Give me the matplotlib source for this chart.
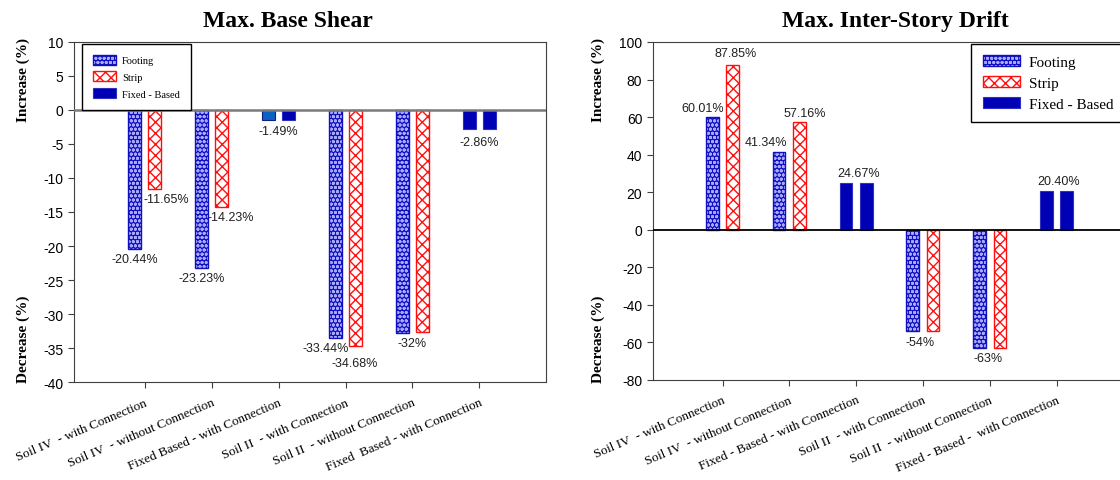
import numpy as np
import matplotlib
matplotlib.use("Agg")
import matplotlib.pyplot as plt
from matplotlib.legend_handler import HandlerTuple

plt.rcParams["hatch.linewidth"] = 1.0
plt.rcParams["axes.unicode_minus"] = False

SERIF = "Liberation Serif"
SANS = "Liberation Sans"

# ---- data -------------------------------------------------------------
shear_cats = ["Soil IV  - with Connection", "Soil IV  - without Connection",
              "Fixed Based - with Connection", "Soil II  - with Connection",
              "Soil II  - without Connection", "Fixed  Based - with Connection"]
shear_footing = [-20.44, -23.23, np.nan, -33.44, -32.75, np.nan]
shear_strip = [-11.65, -14.23, np.nan, -34.68, -32.6, np.nan]
shear_fixed = [np.nan, np.nan, -1.49, np.nan, np.nan, -2.86]
# (text, series, category index)
shear_labels = [("-20.44%", "footing", 0), ("-11.65%", "strip", 0),
                ("-23.23%", "footing", 1), ("-14.23%", "strip", 1),
                ("-1.49%", "fixed", 2), ("-33.44%", "footing", 3),
                ("-34.68%", "strip", 3), ("-32%", "group", 4),
                ("-2.86%", "fixed", 5)]

drift_cats = ["Soil IV  - with Connection", "Soil IV  - without Connection",
              "Fixed - Based - with Connection", "Soil II  - with Connection",
              "Soil II  - without Connection", "Fixed - Based -  with Connection"]
drift_footing = [60.01, 41.34, np.nan, -54.0, -63.0, np.nan]
drift_strip = [87.85, 57.16, np.nan, -54.0, -63.0, np.nan]
drift_fixed = [np.nan, np.nan, 24.67, np.nan, np.nan, 20.40]
drift_labels = [("60.01%", "footing", 0), ("87.85%", "strip", 0),
                ("41.34%", "footing", 1), ("57.16%", "strip", 1),
                ("24.67%", "fixed", 2), ("-54%", "footing", 3),
                ("-63%", "footing", 4), ("20.40%", "fixed", 5)]

# ---- style ------------------------------------------------------------
BLUE = "#1010c0"
DOTS = "#a8a8ff"
FIXED = "#0000b4"
RED = "#ff1010"
W = 0.19
OFF = 0.152
FOOT_HATCH = "oooo"
STRIP_HATCH = "xxx"
# label offsets in points (dx, dy)
shear_offs = [(0, -3), (8.3, -3), (0, -3), (6.2, -3), (0, -3.5), (-7, -3),
              (-1, -8), (0, -3), (0, -4.5)]
drift_offs = [(-6.8, 2), (2.3, 4), (-9.4, 3), (3.8, 2.5), (1.5, 3), (5.3, -4),
              (5.8, -3), (1.3, 3)]


def draw(ax, cats, footing, strip, fixed, labels, offs, ylim, yticks,
         fs_lab, zero_col, zero_lw, light_first=None):
    x = np.arange(len(cats))
    ax.bar(x - OFF, footing, W, color=BLUE, edgecolor=DOTS,
           hatch=FOOT_HATCH, lw=0, zorder=2)
    ax.bar(x - OFF, footing, W, fill=False, edgecolor=BLUE, lw=1, zorder=3)
    ax.bar(x + OFF, strip, W, color="white", edgecolor=RED, hatch=STRIP_HATCH,
           lw=1, zorder=2)
    fx = ax.bar(x - OFF, fixed, W, color=FIXED, edgecolor="#3030c0", lw=0.8,
                zorder=2)
    ax.bar(x + OFF, fixed, W, color=FIXED, edgecolor="#3030c0", lw=0.8,
           zorder=2)
    if light_first is not None:
        fx[light_first].set_facecolor("#0a62c4")
        fx[light_first].set_edgecolor("#102080")
    ax.axhline(0, color=zero_col, lw=zero_lw, zorder=4)

    series = {"footing": (footing, -OFF), "strip": (strip, OFF),
              "fixed": (fixed, 0.0), "group": (footing, 0.0)}
    for (txt, s, i), (dx, dy) in zip(labels, offs):
        vals, o = series[s]
        v = vals[i]
        ax.annotate(txt, (x[i] + o, v), xytext=(dx, dy),
                    textcoords="offset points", ha="center",
                    va="bottom" if v > 0 else "top", fontsize=fs_lab,
                    family=SANS, color="#202020", zorder=5)

    ax.set_ylim(*ylim)
    ax.set_yticks(yticks)
    ax.set_xticks(x)
    ax.set_xticklabels(cats, rotation=23, ha="right", va="top",
                       rotation_mode="anchor", family=SERIF, fontsize=9.5)
    ax.tick_params(axis="x", length=4, pad=6, color="#404040")
    ax.tick_params(axis="y", length=4, labelsize=10, color="#404040")
    for t in ax.get_yticklabels():
        t.set_family(SANS)
    for sp in ax.spines.values():
        sp.set_color("#404040")
    return x


fig = plt.figure(figsize=(11.2, 4.81), dpi=100)

# left chart
ax1 = fig.add_axes([74 / 1120, 1 - 383.3 / 481, 472.4 / 1120, 340.6 / 481])
draw(ax1, shear_cats, shear_footing, shear_strip, shear_fixed, shear_labels,
     shear_offs, (-40, 10), np.arange(-40, 11, 5), 9, "#7a7a7a", 1.8,
     light_first=2)
ax1.set_xlim(-1.055, 6.0)

# right chart (its right edge falls just outside the figure, as in the source)
ax2 = fig.add_axes([652.7 / 1120, 1 - 380.7 / 481, 470.6 / 1120, 337.7 / 481])
draw(ax2, drift_cats, drift_footing, drift_strip, drift_fixed, drift_labels,
     drift_offs, (-80, 100), np.arange(-80, 101, 20), 9, "black", 1.3)
ax2.set_xlim(-1.045, 6.0)


def legend(ax, fs, anchor, mode=None, **kw):
    hatch_f = plt.Rectangle((0, 0), 1, 1, fc=BLUE, ec=DOTS,
                            hatch=FOOT_HATCH, lw=0)
    edge_f = plt.Rectangle((0, 0), 1, 1, fill=False, ec=BLUE, lw=1)
    strip_h = plt.Rectangle((0, 0), 1, 1, fc="white", ec=RED,
                            hatch=STRIP_HATCH, lw=1)
    fixed_h = plt.Rectangle((0, 0), 1, 1, fc=FIXED, ec="#3030c0", lw=0.8)
    leg = ax.legend([(hatch_f, edge_f), strip_h, fixed_h],
                    ["Footing", "Strip", "Fixed - Based"],
                    handler_map={tuple: HandlerTuple(ndivide=1)},
                    loc="upper left", bbox_to_anchor=anchor, mode=mode,
                    borderaxespad=0, fancybox=False, framealpha=1,
                    edgecolor="black", prop={"family": SERIF, "size": fs},
                    **kw)
    leg.get_frame().set_linewidth(1.0)
    leg.set_zorder(6)


legend(ax1, 7.5, ((82 - 74) / 472.4, (383.3 - 44.7) / 340.6),
       borderpad=1.05, handlelength=2.2, handleheight=1.1, labelspacing=0.6,
       handletextpad=0.6)
legend(ax2, 11, ((971.4 - 652.7) / 470.6, (380.7 - 44.7) / 337.7,
                 0.36, 0.0), mode="expand",
       borderpad=0.75, handlelength=2.4, handleheight=0.75, labelspacing=0.45,
       handletextpad=0.6)

# titles and y labels
fig.text(288 / 1120, 1 - 26.7 / 481, "Max. Base Shear", ha="center",
         va="baseline", family=SERIF, weight="bold", fontsize=17)
fig.text(895 / 1120, 1 - 26.7 / 481, "Max. Inter-Story Drift", ha="center",
         va="baseline", family=SERIF, weight="bold", fontsize=17)
for xp in (23.6, 598.5):
    fig.text(xp / 1120, 1 - 80 / 481, "Increase (%)", rotation=90,
             ha="center", va="center", family=SERIF, weight="bold",
             fontsize=11)
    fig.text(xp / 1120, 1 - 339 / 481, "Decrease (%)", rotation=90,
             ha="center", va="center", family=SERIF, weight="bold",
             fontsize=11)

fig.savefig("out.png", dpi=100)
